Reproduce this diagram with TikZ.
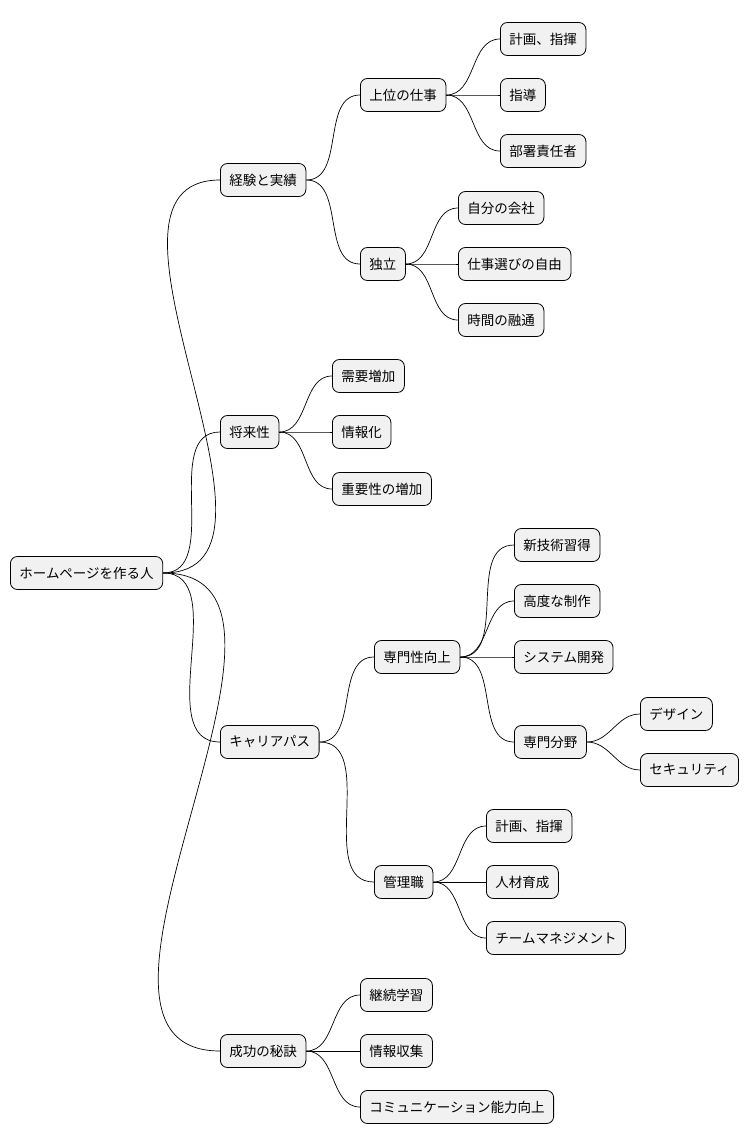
\documentclass[tikz,border=0pt]{standalone}
\usepackage{fontspec}
\setmainfont{Noto Sans CJK JP}
\begin{document}
\begin{tikzpicture}[x=1pt,y=-1pt,
  box/.style={draw=black,fill={rgb,255:red,241;green,241;blue,241},rounded corners=7pt,line width=0.8pt,minimum height=33pt,inner xsep=9pt,anchor=west,font=\fontsize{13.5}{15}\selectfont},
  link/.style={line width=0.7pt}]
\useasboundingbox (0,0) rectangle (754,1146);
\node[box] (r) at (10,573) {ホームページを作る人};
\node[box] (a) at (220,180) {経験と実績};
\node[box] (a1) at (360,95) {上位の仕事};
\node[box] (a11) at (500,39) {計画、指揮};
\node[box] (a12) at (500,95) {指導};
\node[box] (a13) at (500,151) {部署責任者};
\node[box] (a2) at (360,264) {独立};
\node[box] (a21) at (458,208) {自分の会社};
\node[box] (a22) at (458,264) {仕事選びの自由};
\node[box] (a23) at (458,320) {時間の融通};
\node[box] (b) at (220,432) {将来性};
\node[box] (b1) at (332,376) {需要増加};
\node[box] (b2) at (332,432) {情報化};
\node[box] (b3) at (332,489) {重要性の増加};
\node[box] (c) at (220,742) {キャリアパス};
\node[box] (c1) at (374,657) {専門性向上};
\node[box] (c11) at (514,545) {新技術習得};
\node[box] (c12) at (514,601) {高度な制作};
\node[box] (c13) at (514,657) {システム開発};
\node[box] (c14) at (514,742) {専門分野};
\node[box] (c141) at (640,714) {デザイン};
\node[box] (c142) at (640,770) {セキュリティ};
\node[box] (c2) at (374,882) {管理職};
\node[box] (c21) at (486,826) {計画、指揮};
\node[box] (c22) at (486,882) {人材育成};
\node[box] (c23) at (486,938) {チームマネジメント};
\node[box] (d) at (220,1051) {成功の秘訣};
\node[box] (d1) at (360,995) {継続学習};
\node[box] (d2) at (360,1051) {情報収集};
\node[box] (d3) at (360,1107) {コミュニケーション能力向上};
\foreach \p/\c in {r/a,r/b,r/c,r/d,a/a1,a/a2,a1/a11,a1/a12,a1/a13,a2/a21,a2/a22,a2/a23,b/b1,b/b2,b/b3,c/c1,c/c2,c1/c11,c1/c12,c1/c13,c1/c14,c14/c141,c14/c142,c2/c21,c2/c22,c2/c23,d/d1,d/d2,d/d3}
  \draw[link] (\p.east) to[out=0,in=180] (\c.west);
\end{tikzpicture}
\end{document}
